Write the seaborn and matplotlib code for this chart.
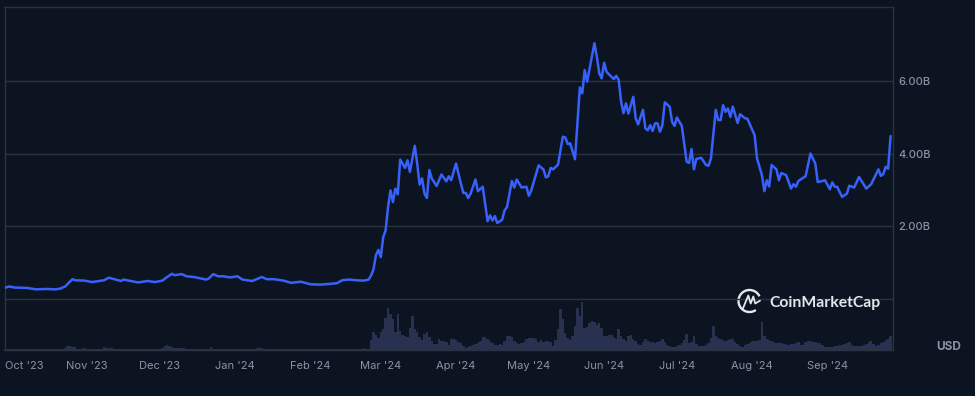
import numpy as np
import pandas as pd
import seaborn as sns
import matplotlib.pyplot as plt
import matplotlib.dates as mdates
from matplotlib.lines import Line2D
from matplotlib.patches import Arc

START = pd.Timestamp("2023-09-28")

# days since START where the price line changes direction
price_days = [0, 2, 4, 9, 13, 17, 21, 23, 25, 26, 28, 29, 33, 36, 41, 43, 48, 49, 52, 55,
              59, 62, 65, 67, 69, 70, 73, 75, 78, 83, 84, 86, 88, 90, 93, 96, 98, 102, 106, 108,
              111, 115, 118, 122, 126, 130, 134, 137, 139, 142, 145, 148, 150, 151, 152, 153, 154, 155, 156, 157,
              158, 159, 160, 161, 162, 163, 165, 166, 167, 169, 170, 171, 172, 173, 174, 175, 176, 178, 180, 182,
              183, 184, 186, 188, 189, 190, 191, 192, 194, 195, 197, 199, 200, 201, 202, 203, 205, 206, 207, 209,
              210, 211, 213, 215, 216, 217, 220, 222, 223, 224, 225, 226, 228, 230, 231, 232, 233, 235, 237, 238,
              239, 240, 243, 244, 245, 246, 247, 248, 251, 252, 253, 254, 255, 256, 257, 259, 260, 261, 263, 264,
              265, 266, 267, 268, 269, 270, 271, 272, 274, 275, 276, 277, 279, 281, 282, 283, 284, 285, 287, 289,
              290, 291, 293, 294, 295, 296, 297, 298, 299, 300, 302, 303, 305, 306, 309, 310, 312, 313, 314, 315,
              316, 318, 319, 320, 322, 324, 325, 326, 327, 330, 332, 334, 335, 337, 338, 340, 341, 342, 343, 345,
              347, 348, 350, 352, 355, 357, 360, 361, 362, 363, 364, 365]

# market cap, billions of USD
price_b = [0.30, 0.34, 0.31, 0.30, 0.26, 0.27, 0.26, 0.28, 0.34, 0.41, 0.54, 0.51, 0.50, 0.46, 0.51, 0.58, 0.49, 0.53, 0.49, 0.45,
           0.49, 0.46, 0.50, 0.60, 0.69, 0.65, 0.68, 0.62, 0.60, 0.53, 0.55, 0.68, 0.62, 0.62, 0.59, 0.62, 0.53, 0.49, 0.60, 0.54,
           0.54, 0.50, 0.44, 0.47, 0.40, 0.39, 0.41, 0.43, 0.51, 0.53, 0.51, 0.50, 0.53, 0.64, 0.81, 1.20, 1.35, 1.15, 1.70, 1.89,
           2.53, 2.99, 2.67, 3.04, 2.88, 3.84, 3.61, 3.82, 3.50, 4.22, 3.73, 3.15, 3.32, 2.90, 2.78, 3.55, 3.32, 3.11, 3.43, 3.24,
           3.38, 3.27, 3.73, 3.18, 2.92, 2.92, 2.78, 2.90, 3.29, 2.97, 3.09, 2.14, 2.30, 2.16, 2.28, 2.09, 2.18, 2.44, 2.53, 3.25,
           3.07, 3.29, 3.07, 3.09, 2.84, 2.99, 3.68, 3.57, 3.35, 3.38, 3.61, 3.57, 3.70, 4.47, 4.45, 4.27, 4.29, 3.85, 5.83, 5.67,
           6.31, 5.99, 7.05, 6.68, 6.22, 6.08, 6.51, 6.26, 6.06, 6.15, 6.04, 5.44, 5.12, 5.39, 5.11, 5.57, 4.98, 4.81, 5.21, 4.70,
           4.65, 4.79, 4.63, 4.84, 4.84, 4.61, 4.79, 5.42, 5.30, 4.88, 4.77, 5.00, 4.77, 3.78, 3.75, 4.13, 3.57, 3.86, 3.89, 3.69,
           3.67, 3.87, 5.21, 4.93, 4.93, 5.34, 5.16, 5.25, 5.02, 5.30, 4.85, 5.09, 4.98, 4.97, 4.51, 3.87, 3.41, 2.97, 3.27, 3.10,
           3.69, 3.57, 3.27, 3.47, 3.41, 3.04, 3.16, 3.09, 3.25, 3.38, 4.01, 3.73, 3.22, 3.25, 3.27, 3.02, 3.21, 3.09, 3.09, 2.81,
           2.90, 3.12, 3.07, 3.36, 3.04, 3.16, 3.57, 3.39, 3.44, 3.64, 3.59, 4.49]

# daily volume, one value per day from START, hundreds of millions of USD
volume = [0.4, 0.4, 0.3, 0.3, 0.4, 0.3, 0.3, 0.3, 0.4, 0.3,
          0.3, 0.3, 0.3, 0.4, 0.3, 0.3, 0.3, 0.3, 0.3, 0.4,
          0.3, 0.3, 0.4, 0.5, 0.7, 2, 3.5, 3.5, 3, 2.5,
          1, 1, 1, 1.5, 1, 0.8, 0.7, 0.8, 1, 1,
          1, 3, 1.5, 1.5, 1.2, 1, 0.8, 0.8, 1, 0.8,
          0.5, 0.5, 0.4, 0.4, 0.5, 0.4, 0.4, 0.4, 0.5, 0.4,
          0.4, 0.4, 0.5, 0.6, 0.8, 1.5, 3.5, 4.5, 3.5, 2.5,
          2, 2, 1.5, 2, 1.5, 1, 1, 1, 0.6, 0.5,
          0.5, 0.5, 0.6, 0.7, 1, 3, 1, 0.8, 0.8, 0.8,
          0.8, 0.7, 1, 0.8, 0.7, 0.7, 0.6, 0.5, 0.5, 0.6,
          0.5, 0.6, 0.8, 1, 2, 2, 1.5, 0.8, 0.6, 0.5,
          0.5, 0.4, 0.4, 0.4, 0.5, 0.4, 0.4, 0.4, 0.4, 0.4,
          0.4, 0.4, 0.4, 0.4, 0.5, 0.4, 0.4, 0.4, 0.4, 0.4,
          0.4, 0.4, 0.4, 0.4, 0.4, 0.5, 0.5, 0.6, 1, 1,
          0.8, 0.6, 0.5, 0.5, 0.5, 0.5, 0.6, 1, 2, 1,
          1, 10, 18, 15, 12, 18, 21, 32, 42, 36,
          31, 18, 36, 19, 15, 14, 13, 22, 34, 21,
          18, 13, 10, 16, 18, 13, 9, 6, 6, 11,
          9, 9, 8, 5, 11, 11, 10, 8, 7, 4,
          2, 3, 4, 5, 6, 7, 9, 13, 13, 11,
          9, 7, 5, 5, 6, 5, 9, 14, 14, 13,
          9, 7, 6, 7, 8, 11, 12, 12, 12, 11,
          8, 10, 8, 9, 9, 8, 4, 10, 21, 41,
          31, 17, 12, 10, 14, 24, 42, 34, 48, 22,
          23, 27, 29, 28, 25, 27, 22, 14, 14, 15,
          15, 13, 11, 21, 14, 11, 9, 14, 15, 11,
          9, 6, 5, 8, 11, 9, 8, 8, 7, 8,
          9, 11, 8, 5, 4, 3, 3, 4, 5, 7,
          10, 16, 7, 8, 14, 6, 4, 4, 4, 5,
          7, 12, 24, 14, 12, 11, 10, 9, 10, 11,
          11, 8, 6, 4, 3, 5, 6, 7, 9, 9,
          9, 10, 28, 14, 11, 10, 9, 8, 7, 7,
          7, 6, 6, 5, 6, 6, 7, 8, 5, 5,
          8, 9, 9, 8, 8, 7, 7, 5, 3, 3,
          3, 3, 4, 4, 5, 5, 6, 7, 8, 5,
          4, 4, 4, 4, 5, 6, 8, 9, 6, 4,
          5, 7, 8, 10, 11, 14]

month_ticks = ["2023-10-06", "2023-11-01", "2023-12-01", "2024-01-01", "2024-02-01", "2024-03-01",
               "2024-04-01", "2024-05-01", "2024-06-01", "2024-07-01", "2024-08-01", "2024-09-01"]
month_labels = ["Oct '23", "Nov '23", "Dec '23", "Jan '24", "Feb '24", "Mar '24",
                "Apr '24", "May '24", "Jun '24", "Jul '24", "Aug '24", "Sep '24"]
price_ticks = [0, 2, 4, 6]
price_tick_labels = ["", "2.00B", "4.00B", "6.00B"]

BG = "#0D1421"
LINE = "#3861FB"
GRID = "#2B3240"
BAR = "#283150"
TICK = "#8A92A6"

sns.set_theme(style="dark")
plt.rcParams["font.family"] = ["Inter", "DejaVu Sans"]

price_dates = START + pd.to_timedelta(price_days, unit="D")
volume_dates = mdates.date2num(pd.date_range(START, periods=len(volume), freq="D"))

W, H = 975, 396
fig = plt.figure(figsize=(W / 100, H / 100), dpi=100, facecolor=BG)
ax = fig.add_axes([4.5 / W, 1 - 349.5 / H, 888.5 / W, 342.5 / H], facecolor=BG)

# volume sits on its own hidden scale, 1 unit is about 1 px
ax_vol = ax.twinx()
sns.barplot(x=volume_dates, y=volume, native_scale=True, color=BAR, saturation=1,
            errorbar=None, width=1, linewidth=0, ax=ax_vol)
ax_vol.set_ylim(0, 342.5)
ax_vol.axis("off")

ax.set_zorder(ax_vol.get_zorder() + 1)
ax.patch.set_visible(False)
ax_vol.patch.set_visible(False)

sns.lineplot(x=mdates.date2num(price_dates), y=price_b, estimator=None, sort=False,
             color=LINE, linewidth=1.8, ax=ax, zorder=5)

ax.set_xlim(mdates.date2num(START), mdates.date2num(START) + 366)
ax.set_ylim(-1.40, 8.05)
ax.yaxis.tick_right()
ax.set_yticks(price_ticks, price_tick_labels)
ax.set_xticks(mdates.date2num(pd.to_datetime(month_ticks)), month_labels)
ax.grid(axis="y", color=GRID, linewidth=1)
ax.grid(axis="x", visible=False)
ax.tick_params(axis="x", length=0, pad=8.5, labelsize=8, labelcolor=TICK)
ax.tick_params(axis="y", length=0, pad=4, labelsize=8, labelcolor=TICK)
for label in ax.get_yticklabels():
    label.set_fontweight("medium")
for spine in ax.spines.values():
    spine.set_visible(True)
    spine.set_color(GRID)
    spine.set_linewidth(1)

fig.text(949 / W, 1 - 346.5 / H, "USD", color=TICK, fontsize=8.5, fontweight="bold",
         ha="center", va="center")

# logo, in pixel coordinates
LOGO = "#E4E7EC"
cx, cy = 749.5, H - 301
fig.add_artist(Arc((cx, cy), 22, 22, theta1=25, theta2=305, color=LOGO, linewidth=1.7,
                   transform=None))
m_x = [742.7, 748.3, 750.7, 753.3, 755.2, 760]
m_y = [309, 295.5, 303.5, 296.5, 303.5, 300.7]
fig.add_artist(Line2D(m_x, [H - v for v in m_y], color=LOGO, linewidth=1.3, transform=None))
fig.text(769 / W, 1 - 303 / H, "CoinMarketCap", color=LOGO, fontsize=11.3, fontweight="bold",
         family=["Lato", "DejaVu Sans"], ha="left", va="center")

fig.savefig("out.png", dpi=100, facecolor=BG)
